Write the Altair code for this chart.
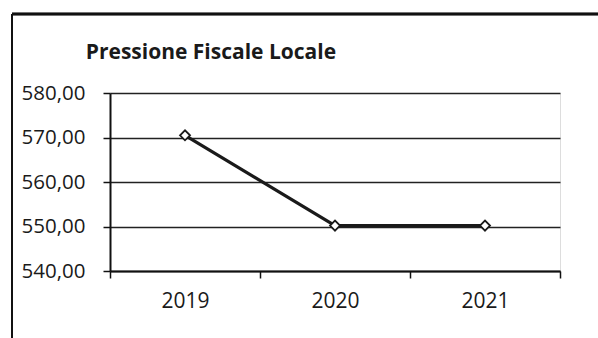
import altair as alt
import pandas as pd

years = ["2019", "2020", "2021"]
values = [570.5, 550.2, 550.2]
y_ticks = [540, 550, 560, 570, 580]
title_text = "Pressione Fiscale Locale"

df = pd.DataFrame({"anno": years, "valore": values})

FONT = "Open Sans"

x_enc = alt.X(
    "anno:N",
    title=None,
    scale=alt.Scale(type="band", paddingInner=0, paddingOuter=0),
    axis=alt.Axis(
        tickBand="extent", labelAngle=0, labelFont=FONT, labelFontSize=21,
        labelColor="#1a1a1a", labelPadding=12, tickSize=7, tickColor="#111",
        tickWidth=1.5, domainColor="#111", domainWidth=2, grid=False,
    ),
)
y_enc = alt.Y(
    "valore:Q",
    title=None,
    scale=alt.Scale(domain=[540, 580], nice=False, zero=False),
    axis=alt.Axis(
        values=y_ticks,
        labelExpr="replace(format(datum.value, '.2f'), '.', ',')",
        labelFont=FONT, labelFontSize=20.5, labelColor="#1a1a1a", labelPadding=18,
        tickSize=7, tickColor="#111", tickWidth=1.5, domainColor="#111",
        domainWidth=2, grid=True, gridColor="#222", gridWidth=1.6,
    ),
)

base = alt.Chart(df)
line = base.mark_line(color="#1a1a1a", strokeWidth=3.2).encode(x=x_enc, y=y_enc)
pts = base.mark_point(
    shape="diamond", filled=True, fill="white", stroke="#1a1a1a",
    strokeWidth=1.8, size=100, opacity=1,
).encode(x="anno:N", y="valore:Q")

border_left = alt.Chart(df).mark_rule(color="#111", strokeWidth=2).encode(
    x=alt.value(-98), y=alt.value(-79), y2=alt.value(260)
)
border_top = alt.Chart(df).mark_rule(color="#111", strokeWidth=2.5).encode(
    x=alt.value(-98), x2=alt.value(500), y=alt.value(-79)
)

chart = alt.layer(line, pts, border_left, border_top).properties(
    width=450,
    height=178,
    autosize=alt.AutoSizeParams(type="none"),
    padding={"left": 110, "top": 93, "right": 38, "bottom": 67},
    title=alt.TitleParams(
        title_text, anchor="start", font=FONT, fontSize=21, fontWeight="bold",
        color="#1a1a1a", dx=75, offset=0, dy=50,
    ),
).configure_view(stroke=None).configure(background="white")

chart.save("out.html", embed_options={"renderer": "svg", "actions": False})
